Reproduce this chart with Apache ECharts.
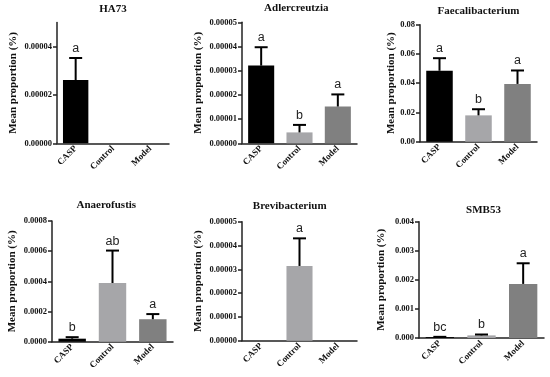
<!DOCTYPE html>
<html><head><meta charset="utf-8">
<script src="https://cdn.jsdelivr.net/npm/echarts@6/dist/echarts.min.js"></script>
<style>html,body{margin:0;padding:0;background:#fff}#c{width:550px;height:377px}</style>
</head><body><div id="c"></div>
<script>
// ---------- data ----------
const categories = ['CASP', 'Control', 'Model'];
const panelTitles = ['HA73', 'Adlercreutzia', 'Faecalibacterium', 'Anaerofustis', 'Brevibacterium', 'SMB53'];
const yAxisName = 'Mean proportion (%)';

const ha73Mean = [0.0000262, null, null];
const ha73Sem  = [0.0000091, null, null];
const ha73Sig  = ['a', '', ''];

const adlerMean = [0.0000321, 0.0000045, 0.0000152];
const adlerSem  = [0.0000076, 0.0000031, 0.0000050];
const adlerSig  = ['a', 'b', 'a'];

const faecalMean = [0.0485, 0.0180, 0.0395];
const faecalSem  = [0.0086, 0.0042, 0.0092];
const faecalSig  = ['a', 'b', 'a'];

const anaeroMean = [0.000020, 0.000389, 0.000149];
const anaeroSem  = [0.000010, 0.000215, 0.000034];
const anaeroSig  = ['b', 'ab', 'a'];

const breviMean = [null, 0.0000314, null];
const breviSem  = [null, 0.0000116, null];
const breviSig  = ['', 'a', ''];

const smbMean = [0.00003, 0.00009, 0.00186];
const smbSem  = [0.00001, 0.00003, 0.00071];
const smbSig  = ['bc', 'b', 'a'];

const ha73Ticks   = ['0.00000', '0.00002', '0.00004'];
const adlerTicks  = ['0.00000', '0.00001', '0.00002', '0.00003', '0.00004', '0.00005'];
const faecalTicks = ['0.00', '0.02', '0.04', '0.06', '0.08'];
const anaeroTicks = ['0.0000', '0.0002', '0.0004', '0.0006', '0.0008'];
const breviTicks  = ['0.00000', '0.00001', '0.00002', '0.00003', '0.00004', '0.00005'];
const smbTicks    = ['0.000', '0.001', '0.002', '0.003', '0.004'];

const yMax = [0.00005, 0.00005, 0.08, 0.0008, 0.00005, 0.004];

// ---------- styles / layout ----------
const barColors = ['#000000', '#a6a6a9', '#808080'];
const layout = [
  {l: 57,  t: 22.5,  w: 112, h: 120.8, tx: 113,   ty: 9,     gap: 38},
  {l: 242, t: 22.3,  w: 115, h: 121,   tx: 296.3, ty: 8.5,   gap: 38},
  {l: 420, t: 24.7,  w: 117, h: 117,   tx: 478.5, ty: 11,    gap: 22.5},
  {l: 52,  t: 221,   w: 121, h: 120.7, tx: 106.3, ty: 205,   gap: 34.5},
  {l: 242, t: 221.7, w: 115, h: 119,   tx: 289.7, ty: 206.3, gap: 38},
  {l: 419, t: 221.7, w: 125, h: 116.3, tx: 483.5, ty: 209.7, gap: 32}
];

const means = [ha73Mean, adlerMean, faecalMean, anaeroMean, breviMean, smbMean];
const sems  = [ha73Sem, adlerSem, faecalSem, anaeroSem, breviSem, smbSem];
const sigs  = [ha73Sig, adlerSig, faecalSig, anaeroSig, breviSig, smbSig];
const ticks = [ha73Ticks, adlerTicks, faecalTicks, anaeroTicks, breviTicks, smbTicks];

const serif = '"Liberation Serif", "Times New Roman", serif';
const axisColor = '#222';

const chart = echarts.init(document.getElementById('c'), null, {renderer: 'canvas'});

const grid = layout.map(p => ({left: p.l, top: p.t, width: p.w, height: p.h}));
const xAxis = layout.map((p, i) => ({
  type: 'category', gridIndex: i, data: categories,
  axisLine: {lineStyle: {color: axisColor, width: 1.5}},
  axisTick: {alignWithLabel: true, length: 3, lineStyle: {color: axisColor, width: 1.5}},
  axisLabel: {rotate: 45, interval: 0, fontSize: 9, fontWeight: 'bold', fontFamily: serif, color: '#111', margin: 4}
}));
const yAxis = layout.map((p, i) => {
  const vals = ticks[i].map(Number);
  return {
    type: 'value', gridIndex: i, min: 0, max: yMax[i],
    name: yAxisName, nameLocation: 'middle', nameGap: p.gap,
    nameTextStyle: {fontSize: 11, fontWeight: 'bold', fontFamily: serif, color: '#111'},
    axisLine: {show: true, lineStyle: {color: axisColor, width: 1.5}},
    axisTick: {show: true, length: 4, customValues: vals, lineStyle: {color: axisColor, width: 1.5}},
    axisLabel: {
      customValues: vals, fontSize: 8.5, fontWeight: 'bold', fontFamily: serif, color: '#111', margin: 5,
      formatter: v => { const k = vals.findIndex(x => Math.abs(x - v) < 1e-12); return k >= 0 ? ticks[i][k] : ''; }
    },
    splitLine: {show: false}
  };
});

const series = [];
means.forEach((m, i) => {
  series.push({
    type: 'bar', xAxisIndex: i, yAxisIndex: i, barWidth: '68%',
    data: m.map((v, j) => v == null ? '-' : {value: v, itemStyle: {color: barColors[j]}}),
    silent: true
  });
  const items = [];
  const labels = [];
  m.forEach((v, j) => { if (v != null) { items.push([j, v, sems[i][j]]); labels.push(sigs[i][j]); } });
  series.push({
    type: 'custom', xAxisIndex: i, yAxisIndex: i, z: 5, silent: true,
    data: items,
    renderItem: (params, api) => {
      const x = api.value(0), v = api.value(1), e = api.value(2);
      const p0 = api.coord([x, v]);
      const p1 = api.coord([x, v + e]);
      const half = 6.5;
      return {
        type: 'group', children: [
          {type: 'line', shape: {x1: p0[0], y1: p0[1], x2: p1[0], y2: p1[1]}, style: {stroke: '#000', lineWidth: 2}},
          {type: 'line', shape: {x1: p1[0] - half, y1: p1[1], x2: p1[0] + half, y2: p1[1]}, style: {stroke: '#000', lineWidth: 2}},
          {type: 'text', x: p1[0], y: p1[1] - 3,
           style: {text: labels[params.dataIndex], align: 'center', verticalAlign: 'bottom',
                   font: '12.5px "Liberation Sans", Arial, sans-serif', fill: '#222'}}
        ]
      };
    }
  });
});

const graphic = panelTitles.map((t, i) => ({
  type: 'text', x: layout[i].tx, y: layout[i].ty,
  style: {text: t, font: 'bold 11px ' + serif, fill: '#111', align: 'center', verticalAlign: 'middle'}
}));

chart.setOption({animation: false, backgroundColor: '#fff', grid, xAxis, yAxis, series, graphic});
</script>
</body></html>
